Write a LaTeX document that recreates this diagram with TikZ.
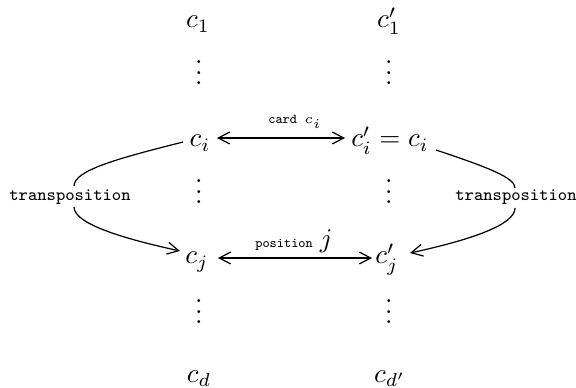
\documentclass[tikz,border=0pt]{standalone}
\usetikzlibrary{arrows.meta}
\newcommand\myvdots{\vbox{\baselineskip4pt\lineskiplimit0pt\hbox{.}\hbox{.}\hbox{.}}}
\begin{document}
\begin{tikzpicture}[x=0.37pt,y=-0.37pt,
  ent/.style={inner sep=0pt,anchor=base},
  lab/.style={inner sep=0pt,font=\fontsize{5}{6}\selectfont\ttfamily},
  tlab/.style={inner sep=0pt,font=\fontsize{6.5}{8}\selectfont\ttfamily},
  arr/.style={line width=0.45pt,-{Straight Barb[length=4.2pt,width=4.4pt]}},
  darr/.style={line width=0.45pt,{Straight Barb[length=4.2pt,width=4.4pt]}-{Straight Barb[length=4.2pt,width=4.4pt]}},
  ln/.style={line width=0.45pt}]
\useasboundingbox (0,0) rectangle (576,388);
% left column
\node[ent] (c1) at (198,28) {$c_1$};
\node[ent] (d1) at (199,85) {\myvdots};
\node[ent] (ci) at (200,147) {$c_i$};
\node[ent] (d2) at (199,204) {\myvdots};
\node[ent] (cj) at (197,264) {$c_j$};
\node[ent] (d3) at (199,324) {\myvdots};
\node[ent] (cd) at (199,382) {$c_d$};
% right column
\node[ent] (cp1) at (389,28) {$c'_1$};
\node[ent] (e1) at (389,85) {\myvdots};
\node[ent] (cpi) at (390,147) {$c'_i = c_i$};
\node[ent] (e2) at (389,204) {\myvdots};
\node[ent] (cpj) at (387,264) {$c'_j$};
\node[ent] (e3) at (389,324) {\myvdots};
\node[ent] (cpd) at (390,382) {$c_{d'}$};
% labels
\node[lab] (card) at (295,122) {card $c_i$};
\node[lab,anchor=base] (pos) at (294,247) {position {\fontsize{10}{12}\selectfont$j$}};
\node[tlab] (tL) at (70,197) {transposition};
\node[tlab] (tR) at (516,197) {transposition};
% curve end points
\coordinate (a1) at (217,138);
\coordinate (a2) at (345,138);
\coordinate (b1) at (218,258);
\coordinate (b2) at (372,258);
\coordinate (ls) at (183,142);
\coordinate (lt) at (74,186);
\coordinate (lb) at (74,207);
\coordinate (le) at (180,251);
\coordinate (rs) at (436,150);
\coordinate (rt) at (515,188);
\coordinate (rb) at (515,208);
\coordinate (re) at (410,253);
% connectors
\draw[darr] (a1) -- (a2);
\draw[darr] (b1) -- (b2);
\draw[ln] (ls) .. controls (120,158) and (74,170) .. (lt);
\draw[arr] (lb) .. controls (74,225) and (130,240) .. (le);
\draw[ln] (rs) .. controls (490,168) and (515,178) .. (rt);
\draw[arr] (rb) .. controls (515,225) and (470,240) .. (re);
\end{tikzpicture}
\end{document}
